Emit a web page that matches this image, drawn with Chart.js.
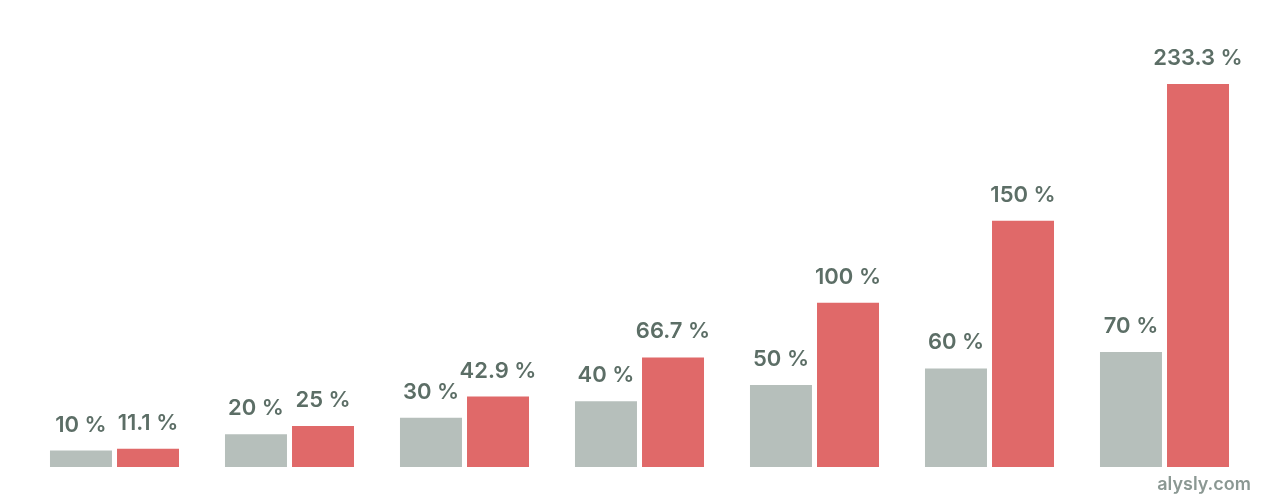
<!DOCTYPE html>
<html>
<head>
<meta charset="utf-8">
<script src="https://cdn.jsdelivr.net/npm/chart.js@4.4.1/dist/chart.umd.min.js"></script>
<style>
  html, body { margin: 0; padding: 0; background: #fff; }
  #wrap { position: relative; width: 1280px; height: 500px; }
  #brand {
    position: absolute; right: 29px; bottom: 6px;
    font: 600 18px Inter, "Open Sans", sans-serif; color: #8b9893;
  }
</style>
</head>
<body>
<div id="wrap">
  <canvas id="chart" width="1280" height="500"></canvas>
  <div id="brand">alysly.com</div>
</div>
<script>
const categories = ["1", "2", "3", "4", "5", "6", "7"];
const greyValues = [10, 20, 30, 40, 50, 60, 70];
const redValues = [11.1, 25, 42.9, 66.7, 100, 150, 233.3];

const greyColor = "#b6bfbb";
const redColor = "#e06969";
const labelColor = "#5c6e66";

const valueLabels = {
  id: "valueLabels",
  afterDatasetsDraw(chart) {
    const ctx = chart.ctx;
    ctx.save();
    ctx.font = "600 22px Inter, 'Open Sans', sans-serif";
    ctx.fillStyle = labelColor;
    ctx.textAlign = "center";
    ctx.textBaseline = "alphabetic";
    chart.data.datasets.forEach((ds, i) => {
      chart.getDatasetMeta(i).data.forEach((bar, j) => {
        ctx.fillText(`${ds.data[j]} %`, bar.x, bar.y - 19);
      });
    });
    ctx.restore();
  }
};

new Chart(document.getElementById("chart"), {
  type: "bar",
  data: {
    labels: categories,
    datasets: [
      { data: greyValues, backgroundColor: greyColor, borderWidth: 0 },
      { data: redValues, backgroundColor: redColor, borderWidth: 0 }
    ]
  },
  options: {
    responsive: false,
    animation: false,
    layout: { padding: { left: 27, right: 28, top: 0, bottom: 33 } },
    datasets: { bar: { categoryPercentage: 0.766, barPercentage: 0.925 } },
    plugins: { legend: { display: false }, tooltip: { enabled: false } },
    scales: {
      x: { display: false },
      y: { display: false, min: 0, max: 284.4 }
    }
  },
  plugins: [valueLabels]
});
</script>
</body>
</html>
